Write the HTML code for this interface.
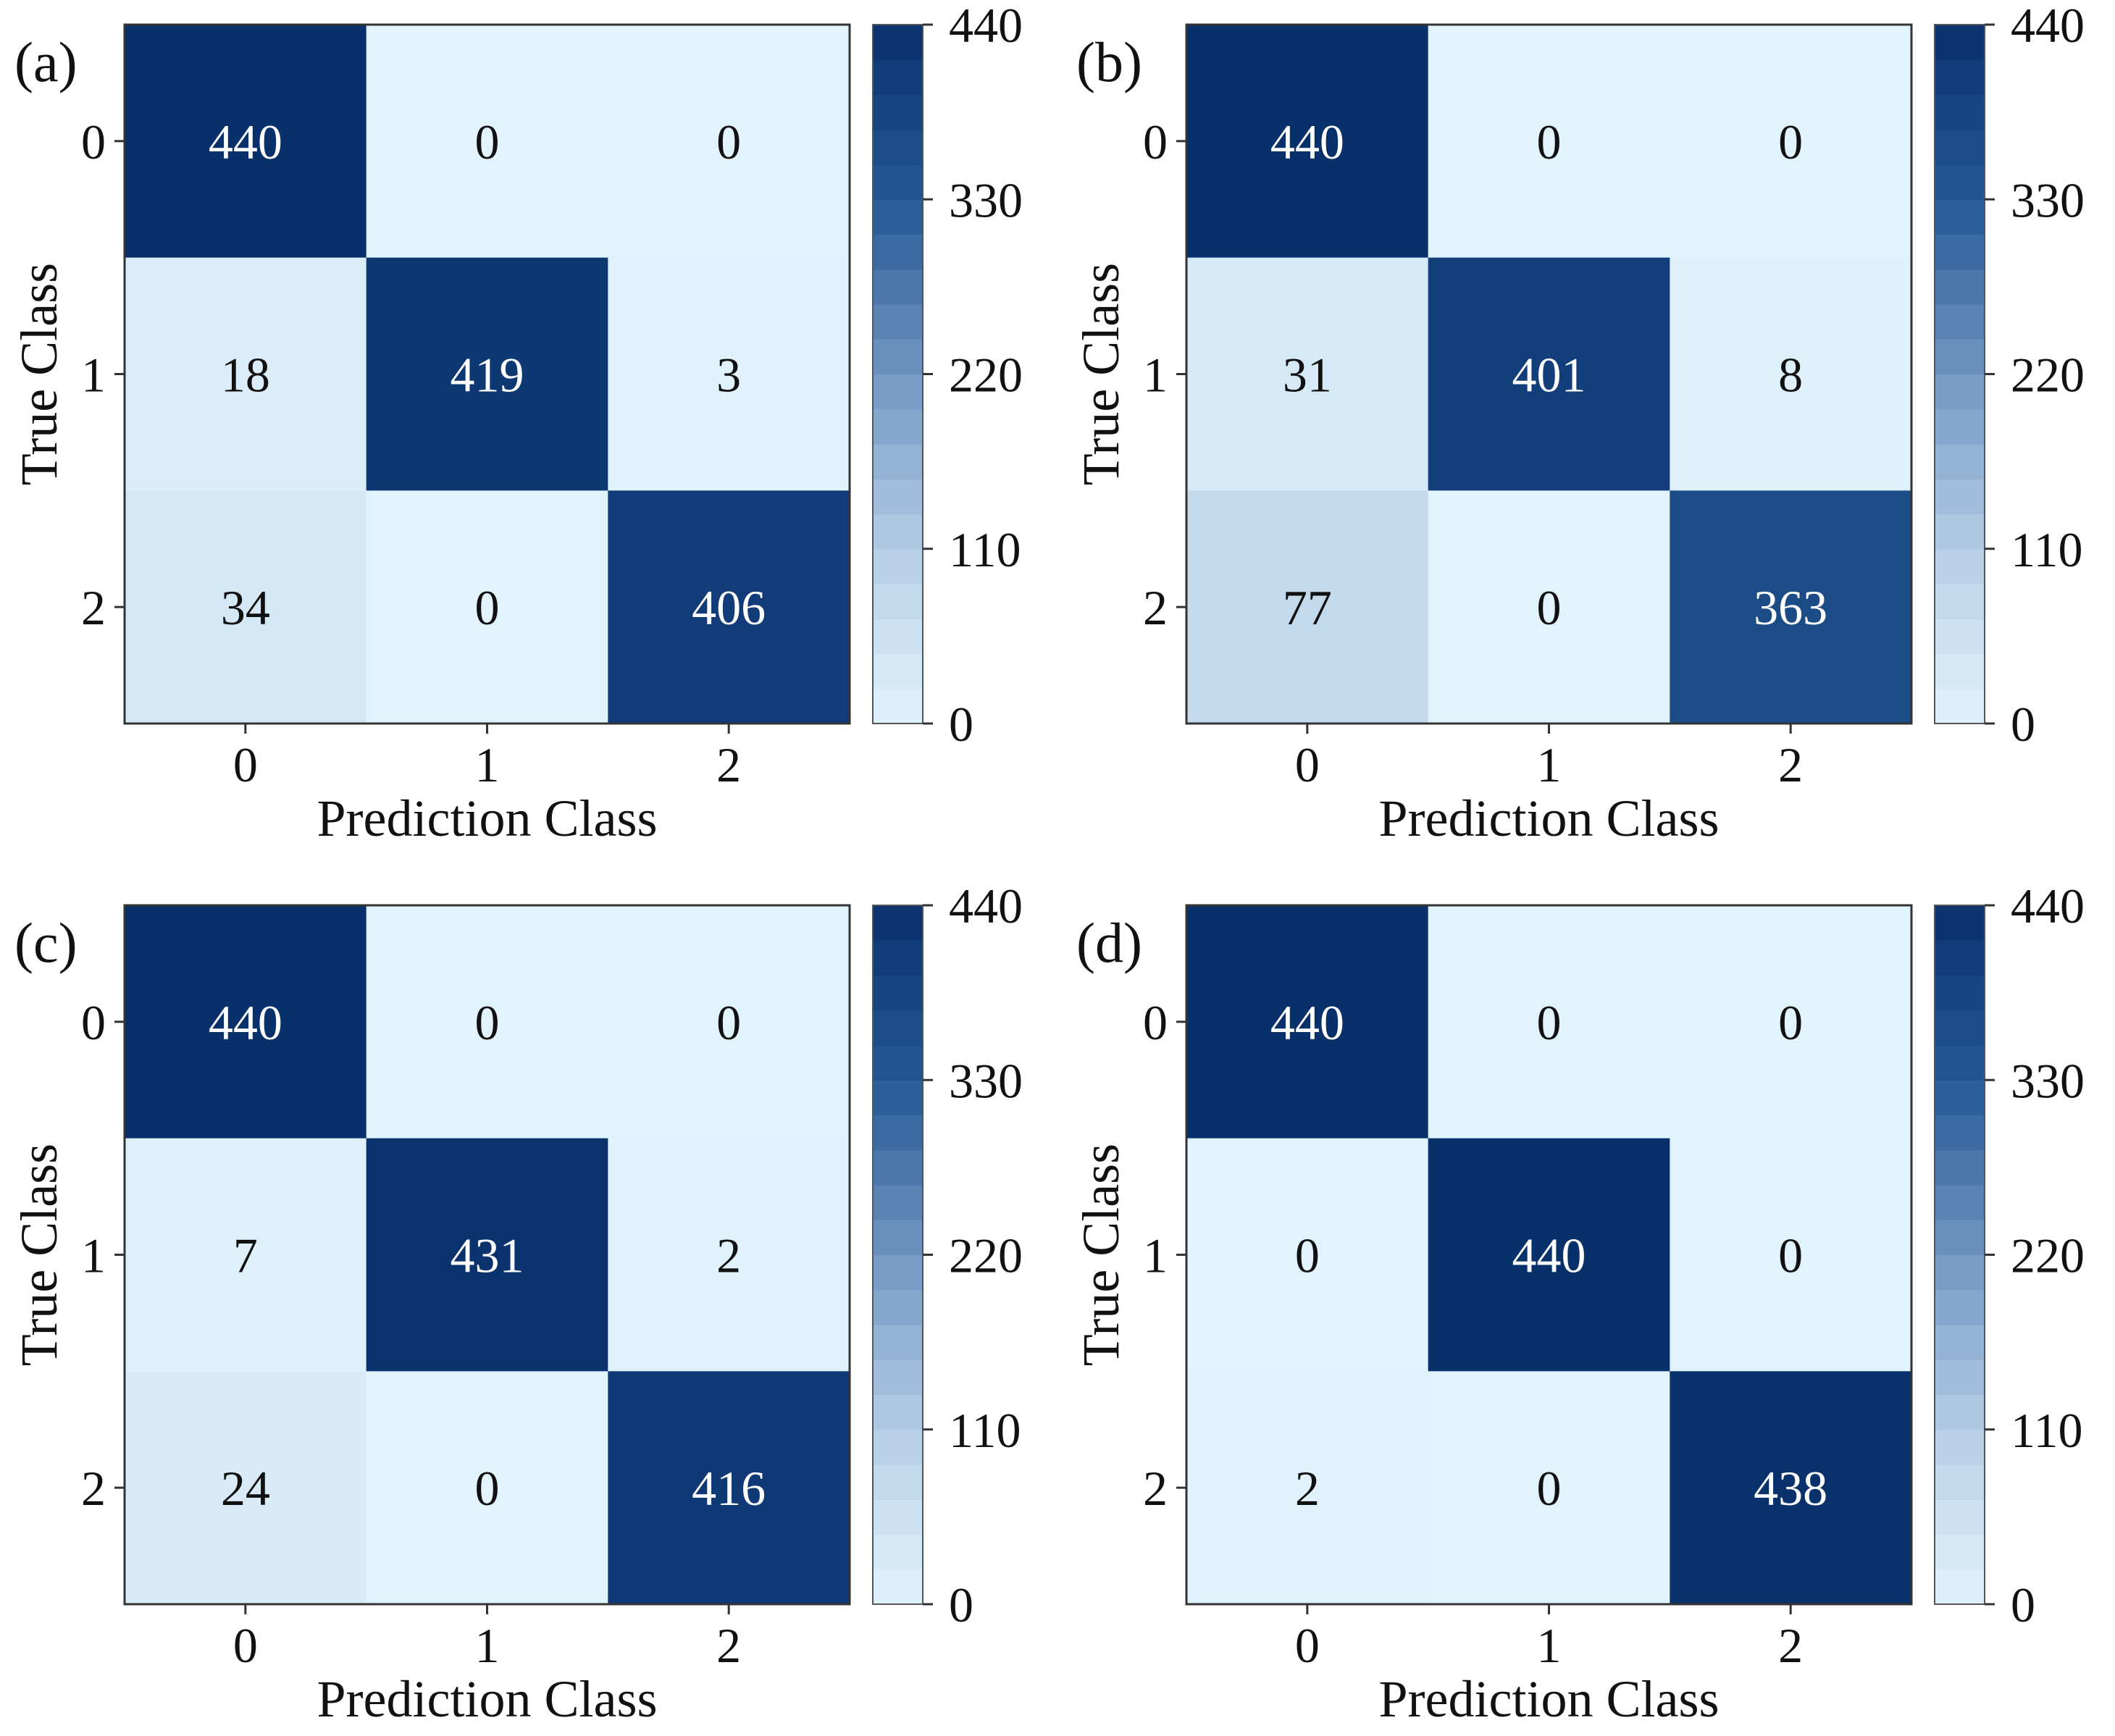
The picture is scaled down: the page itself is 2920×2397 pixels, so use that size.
<!DOCTYPE html>
<html><head><meta charset="utf-8"><style>
html,body{margin:0;padding:0;background:#fff;}
svg{display:block;font-family:"Liberation Serif",serif;}
</style></head><body>
<svg id="fig" width="2920" height="2397" viewBox="0 0 2920 2397" xmlns="http://www.w3.org/2000/svg"></svg>
<script>
const panelLabels = ["(a)", "(b)", "(c)", "(d)"];
const classLabels = ["0", "1", "2"];
const matrixA = [[440,0,0],[18,419,3],[34,0,406]];
const matrixB = [[440,0,0],[31,401,8],[77,0,363]];
const matrixC = [[440,0,0],[7,431,2],[24,0,416]];
const matrixD = [[440,0,0],[0,440,0],[2,0,438]];
const colorbarTicks = [0,110,220,330,440];
const vmax = 440;

const NS = "http://www.w3.org/2000/svg";
const svg = document.getElementById('fig');
function mk(tag, attrs, parent){const e=document.createElementNS(NS,tag);for(const k in attrs)e.setAttribute(k,attrs[k]);(parent||svg).appendChild(e);return e;}
const stops=[[0,[225,243,252]],[0.25,[182,206,229]],[0.5,[113,150,194]],[0.75,[36,88,146]],[1,[8,48,107]]];
function cmap(t){t=Math.max(0,Math.min(1,t));for(let i=1;i<stops.length;i++){if(t<=stops[i][0]){const a=stops[i-1],b=stops[i];const f=(t-a[0])/(b[0]-a[0]);const c=a[1].map((v,j)=>Math.round(v+(b[1][j]-v)*f));return `rgb(${c[0]},${c[1]},${c[2]})`;}}return 'rgb(8,48,107)';}

const mats=[matrixA,matrixB,matrixC,matrixD];
const offsets=[[0,0],[1466,0],[0,1216],[1466,1216]];
mats.forEach((m,p)=>{
  const ox=offsets[p][0], oy=offsets[p][1];
  const g=mk('g',{});
  
  
  const L=172+ox, T=34+oy, W=1001, H=965;
  const n=classLabels.length, cw=W/n, ch=H/n;
  const xs=i=>L+i*cw, ys=i=>T+i*ch;
  m.forEach((row,r)=>row.forEach((v,c)=>{
    const rect=mk('rect',{x:xs(c),y:ys(r),width:cw+0.5,height:ch+0.5,fill:cmap(v/vmax)},g);
    
    
    const t=mk('text',{x:xs(c)+cw/2,y:ys(r)+ch/2+24,'text-anchor':'middle','font-size':68,fill:v>vmax/2?'#fff':'#111'},g);
    t.textContent=v;
    
    
  }));
  const frame=mk('rect',{x:L,y:T,width:W,height:H,fill:'none',stroke:'#333','stroke-width':3},g);
  
  
  classLabels.forEach((lab,i)=>{
    const cx=xs(i)+cw/2;
    mk('line',{x1:cx,y1:T+H,x2:cx,y2:T+H+14,stroke:'#333','stroke-width':3},g);
    const tx=mk('text',{x:cx,y:T+H+80,'text-anchor':'middle','font-size':68,fill:'#111'},g);
    tx.textContent=lab;
    
    
    const cy=ys(i)+ch/2;
    mk('line',{x1:L-14,y1:cy,x2:L,y2:cy,stroke:'#333','stroke-width':3},g);
    const ty=mk('text',{x:L-26,y:cy+24,'text-anchor':'end','font-size':68,fill:'#111'},g);
    ty.textContent=lab;
    
    
  });
  const xt=mk('text',{x:L+W/2,y:T+H+155,'text-anchor':'middle','font-size':72,fill:'#111'},g);
  xt.textContent='Prediction Class';
  
  
  const yt=mk('text',{x:0,y:0,'text-anchor':'middle','font-size':72,fill:'#111',transform:`translate(${78+ox},${T+H/2}) rotate(-90)`},g);
  yt.textContent='True Class';
  
  
  const pl=mk('text',{x:20+ox,y:112+oy,'font-size':78,fill:'#111'},g);
  pl.textContent=panelLabels[p];
  
  
  const cbX=1205+ox, cbW=69;
  const bands=20;
  for(let b=0;b<bands;b++){
    const r=mk('rect',{x:cbX,y:T+H-(b+1)*H/bands,width:cbW,height:H/bands+0.6,fill:cmap((b+0.5)/bands)},g);
    
    
  }
  const cbf=mk('rect',{x:cbX,y:T,width:cbW,height:H,fill:'none',stroke:'#555','stroke-width':2},g);
  
  
  colorbarTicks.forEach(v=>{
    const y=T+H-v/vmax*H;
    mk('line',{x1:cbX+cbW,y1:y,x2:cbX+cbW+14,y2:y,stroke:'#333','stroke-width':3},g);
    const t=mk('text',{x:cbX+cbW+36,y:y+24,'font-size':68,fill:'#111'},g);
    t.textContent=v;
    
    
  });
});
</script>
</body></html>
